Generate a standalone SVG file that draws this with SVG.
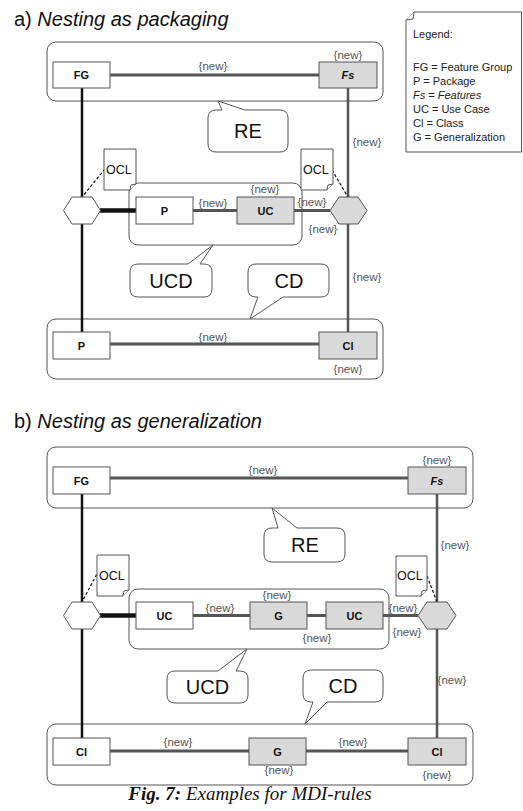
<svg xmlns="http://www.w3.org/2000/svg" width="523" height="811" viewBox="0 0 523 811">
<style>
.title{font-family:"Liberation Sans",Arial,sans-serif;font-size:20px;fill:#111}
.it{font-style:italic}
.cont{fill:#fff;stroke:#555;stroke-width:1}
.box{fill:#fff;stroke:#555;stroke-width:1}
.gbox{fill:#d9d9d9;stroke:#555;stroke-width:1}
.lbl{font-family:"Liberation Sans",Arial,sans-serif;font-size:11px;font-weight:bold;fill:#111;text-anchor:middle}
.new{font-family:"Liberation Sans",Arial,sans-serif;font-size:11.5px;fill:#555;text-anchor:middle}
.big{font-family:"Liberation Sans",Arial,sans-serif;font-size:20px;fill:#111;text-anchor:middle}
.ocl{font-family:"Liberation Sans",Arial,sans-serif;font-size:12.5px;fill:#111}
.leg{font-family:"Liberation Sans",Arial,sans-serif;font-size:11px;fill:#222}
.gl{stroke:#555;stroke-width:3;fill:none}
.gv{stroke:#555;stroke-width:2.5;fill:none}
.bl{stroke:#111;stroke-width:2.5;fill:none}
.bt{stroke:#111;stroke-width:4.5;fill:none}
.dash{stroke:#111;stroke-width:1.2;stroke-dasharray:3,2;fill:none}
.hexw{fill:#fff;stroke:#555;stroke-width:1}
.hexg{fill:#d9d9d9;stroke:#555;stroke-width:1}
.note{fill:#fff;stroke:#555;stroke-width:1}
.cap{font-family:"Liberation Serif","Times New Roman",serif;font-size:19px;font-style:italic;fill:#111}
</style>

<!-- Titles -->
<text class="title" x="14" y="26">a) <tspan class="it">Nesting as packaging</tspan></text>
<text class="title" x="14" y="428">b) <tspan class="it">Nesting as generalization</tspan></text>

<!-- Legend -->
<g id="legend">
  <path class="note" d="M414,12 H521.5 V152 H406 V20 Z"/>
  <path class="note" d="M406,20 L413,19 L414,12"/>
  <text class="leg" x="413" y="38">Legend:</text>
  <text class="leg" x="413" y="71">FG = Feature Group</text>
  <text class="leg" x="413" y="85">P = Package</text>
  <text class="leg it" x="413" y="99">Fs = Features</text>
  <text class="leg" x="413" y="113">UC = Use Case</text>
  <text class="leg" x="413" y="127">Cl = Class</text>
  <text class="leg" x="413" y="141">G = Generalization</text>
</g>

<!-- ===== Part a containers ===== -->
<g id="a-re-container"><rect class="cont" x="47" y="42" width="336" height="59" rx="9"/></g>
<g id="a-ucd-container"><rect class="cont" x="129" y="183" width="173" height="62" rx="9"/></g>
<g id="a-cd-container"><rect class="cont" x="47" y="319" width="336" height="60" rx="9"/></g>

<!-- ===== Part b containers ===== -->
<g id="b-re-container"><rect class="cont" x="47" y="447" width="426" height="61" rx="9"/></g>
<g id="b-ucd-container"><rect class="cont" x="129" y="589" width="260" height="60" rx="9"/></g>
<g id="b-cd-container"><rect class="cont" x="47" y="724" width="426" height="61" rx="9"/></g>

<!-- Connectors -->
<g id="connectors">
  <!-- a -->
  <path class="gl" d="M110,75 H319"/>
  <path class="bl" d="M82,88 V197 M82,224 V332"/>
  <path class="bt" d="M100,210.5 H136"/>
  <path class="gl" d="M193,210.5 H237"/>
  <path class="gl" d="M294,210.5 H330"/>
  <path class="gv" d="M348,88 V197 M348,224 V332"/>
  <path class="gl" d="M110,344 H319"/>
  <path class="dash" d="M105,169 L82,197"/>
  <path class="dash" d="M332,170 L348,197"/>
  <!-- b -->
  <path class="gl" d="M110,478 H408"/>
  <path class="bl" d="M82,494 V602 M82,629 V738"/>
  <path class="bt" d="M100,615.5 H136"/>
  <path class="gl" d="M193,615.5 H250 M307,615.5 H326 M383,615.5 H418"/>
  <path class="gv" d="M437,494 V602 M437,629 V738"/>
  <path class="gl" d="M110,751 H249 M306,751 H408"/>
  <path class="dash" d="M99,570 L82,602"/>
  <path class="dash" d="M427,576 L437,602"/>
</g>

<!-- ===== Part a nodes ===== -->
<g id="a-fg"><rect class="box" x="53" y="62" width="57" height="26"/><text class="lbl" x="81.5" y="79">FG</text></g>
<g id="a-fs"><rect class="gbox" x="319" y="62" width="58" height="26"/><text class="lbl it" x="348" y="79">Fs</text></g>
<g id="a-re-callout">
  <path class="cont" d="M216,110 L222,110 L218,101 L245,110 L280,110 Q288,110 288,118 L288,144 Q288,152 280,152 L216,152 Q208,152 208,144 L208,118 Q208,110 216,110 Z"/>
  <text class="big" x="248" y="138">RE</text>
</g>
<g id="a-ocl-left">
  <path class="note" d="M104,149 H136 V184 L130,190 H104 Z"/>
  <path class="note" d="M136,184 L131,185 L130,190"/>
  <text class="ocl" x="106" y="174">OCL</text>
</g>
<g id="a-ocl-right">
  <path class="note" d="M301,149 H333 V184 L327,190 H301 Z"/>
  <path class="note" d="M333,184 L328,185 L327,190"/>
  <text class="ocl" x="303" y="174">OCL</text>
</g>
<g id="a-hex-left"><polygon class="hexw" points="63.5,210.5 72,197 92,197 100.5,210.5 92,224 72,224"/></g>
<g id="a-hex-right"><polygon class="hexg" points="330,210.5 339,197 358,197 367,210.5 358,224 339,224"/></g>
<g id="a-p"><rect class="box" x="136" y="197" width="57" height="27"/><text class="lbl" x="164.5" y="214.5">P</text></g>
<g id="a-uc"><rect class="gbox" x="237" y="197" width="57" height="27"/><text class="lbl" x="265.5" y="214.5">UC</text></g>
<g id="a-ucd-callout">
  <path class="cont" d="M138,264 L188,264 L213,245 L200,264 L204,264 Q212,264 212,272 L212,289 Q212,297 204,297 L138,297 Q130,297 130,289 L130,272 Q130,264 138,264 Z"/>
  <text class="big" x="171" y="288">UCD</text>
</g>
<g id="a-cd-callout">
  <path class="cont" d="M256,264 L321,264 Q329,264 329,272 L329,289 Q329,297 321,297 L283,297 L250,319 L258,297 L256,297 Q248,297 248,289 L248,272 Q248,264 256,264 Z"/>
  <text class="big" x="289" y="288">CD</text>
</g>
<g id="a-p2"><rect class="box" x="53" y="332" width="57" height="27"/><text class="lbl" x="81.5" y="349.5">P</text></g>
<g id="a-cl"><rect class="gbox" x="319" y="332" width="58" height="27"/><text class="lbl" x="348" y="349.5">Cl</text></g>

<!-- a labels -->
<g id="a-labels">
  <text class="new" x="213" y="70">{new}</text>
  <text class="new" x="348" y="59">{new}</text>
  <text class="new" x="367" y="146">{new}</text>
  <text class="new" x="265" y="193">{new}</text>
  <text class="new" x="213" y="207">{new}</text>
  <text class="new" x="312" y="206">{new}</text>
  <text class="new" x="323" y="233">{new}</text>
  <text class="new" x="367" y="281">{new}</text>
  <text class="new" x="213" y="341">{new}</text>
  <text class="new" x="348" y="373">{new}</text>
</g>

<!-- ===== Part b nodes ===== -->
<g id="b-fg"><rect class="box" x="53" y="467" width="57" height="27"/><text class="lbl" x="81.5" y="484.5">FG</text></g>
<g id="b-fs"><rect class="gbox" x="408" y="467" width="58" height="27"/><text class="lbl it" x="437" y="484.5">Fs</text></g>
<g id="b-re-callout">
  <path class="cont" d="M272,528 L278,528 L272,508 L297,528 L337,528 Q345,528 345,536 L345,554 Q345,562 337,562 L272,562 Q264,562 264,554 L264,536 Q264,528 272,528 Z"/>
  <text class="big" x="305" y="552">RE</text>
</g>
<g id="b-ocl-left">
  <path class="note" d="M97,555 H129 V590 L123,596 H97 Z"/>
  <path class="note" d="M129,590 L124,591 L123,596"/>
  <text class="ocl" x="99" y="580">OCL</text>
</g>
<g id="b-ocl-right">
  <path class="note" d="M396,556 H427 V590 L421,596 H396 Z"/>
  <path class="note" d="M427,590 L422,591 L421,596"/>
  <text class="ocl" x="397" y="580">OCL</text>
</g>
<g id="b-hex-left"><polygon class="hexw" points="63.5,615.5 72,602 92,602 100.5,615.5 92,629 72,629"/></g>
<g id="b-hex-right"><polygon class="hexg" points="418,615.5 427,602 447,602 456,615.5 447,629 427,629"/></g>
<g id="b-uc1"><rect class="box" x="136" y="602" width="57" height="27"/><text class="lbl" x="164.5" y="619.5">UC</text></g>
<g id="b-g1"><rect class="gbox" x="250" y="602" width="57" height="27"/><text class="lbl" x="278.5" y="619.5">G</text></g>
<g id="b-uc2"><rect class="gbox" x="326" y="602" width="57" height="27"/><text class="lbl" x="354.5" y="619.5">UC</text></g>
<g id="b-ucd-callout">
  <path class="cont" d="M175,671 L218,671 L247,649 L236,671 L240,671 Q248,671 248,679 L248,695 Q248,703 240,703 L175,703 Q167,703 167,695 L167,679 Q167,671 175,671 Z"/>
  <text class="big" x="207.5" y="694">UCD</text>
</g>
<g id="b-cd-callout">
  <path class="cont" d="M311,670 L375,670 Q383,670 383,678 L383,694 Q383,702 375,702 L327,702 L305,724 L313,702 L311,702 Q303,702 303,694 L303,678 Q303,670 311,670 Z"/>
  <text class="big" x="343" y="693">CD</text>
</g>
<g id="b-cl1"><rect class="box" x="53" y="738" width="57" height="27"/><text class="lbl" x="81.5" y="755.5">Cl</text></g>
<g id="b-g2"><rect class="gbox" x="249" y="738" width="57" height="27"/><text class="lbl" x="277.5" y="755.5">G</text></g>
<g id="b-cl2"><rect class="gbox" x="408" y="738" width="58" height="27"/><text class="lbl" x="437" y="755.5">Cl</text></g>

<!-- b labels -->
<g id="b-labels">
  <text class="new" x="263" y="474">{new}</text>
  <text class="new" x="437" y="464">{new}</text>
  <text class="new" x="455" y="549">{new}</text>
  <text class="new" x="220" y="612">{new}</text>
  <text class="new" x="277" y="599">{new}</text>
  <text class="new" x="317" y="642">{new}</text>
  <text class="new" x="403" y="612">{new}</text>
  <text class="new" x="407" y="636">{new}</text>
  <text class="new" x="452" y="684">{new}</text>
  <text class="new" x="178" y="746">{new}</text>
  <text class="new" x="353" y="746">{new}</text>
  <text class="new" x="279" y="774">{new}</text>
  <text class="new" x="437" y="779">{new}</text>
</g>

<!-- Caption -->
<text class="cap" x="250" y="800" text-anchor="middle"><tspan font-weight="bold">Fig. 7:</tspan> Examples for MDI-rules</text>
</svg>
